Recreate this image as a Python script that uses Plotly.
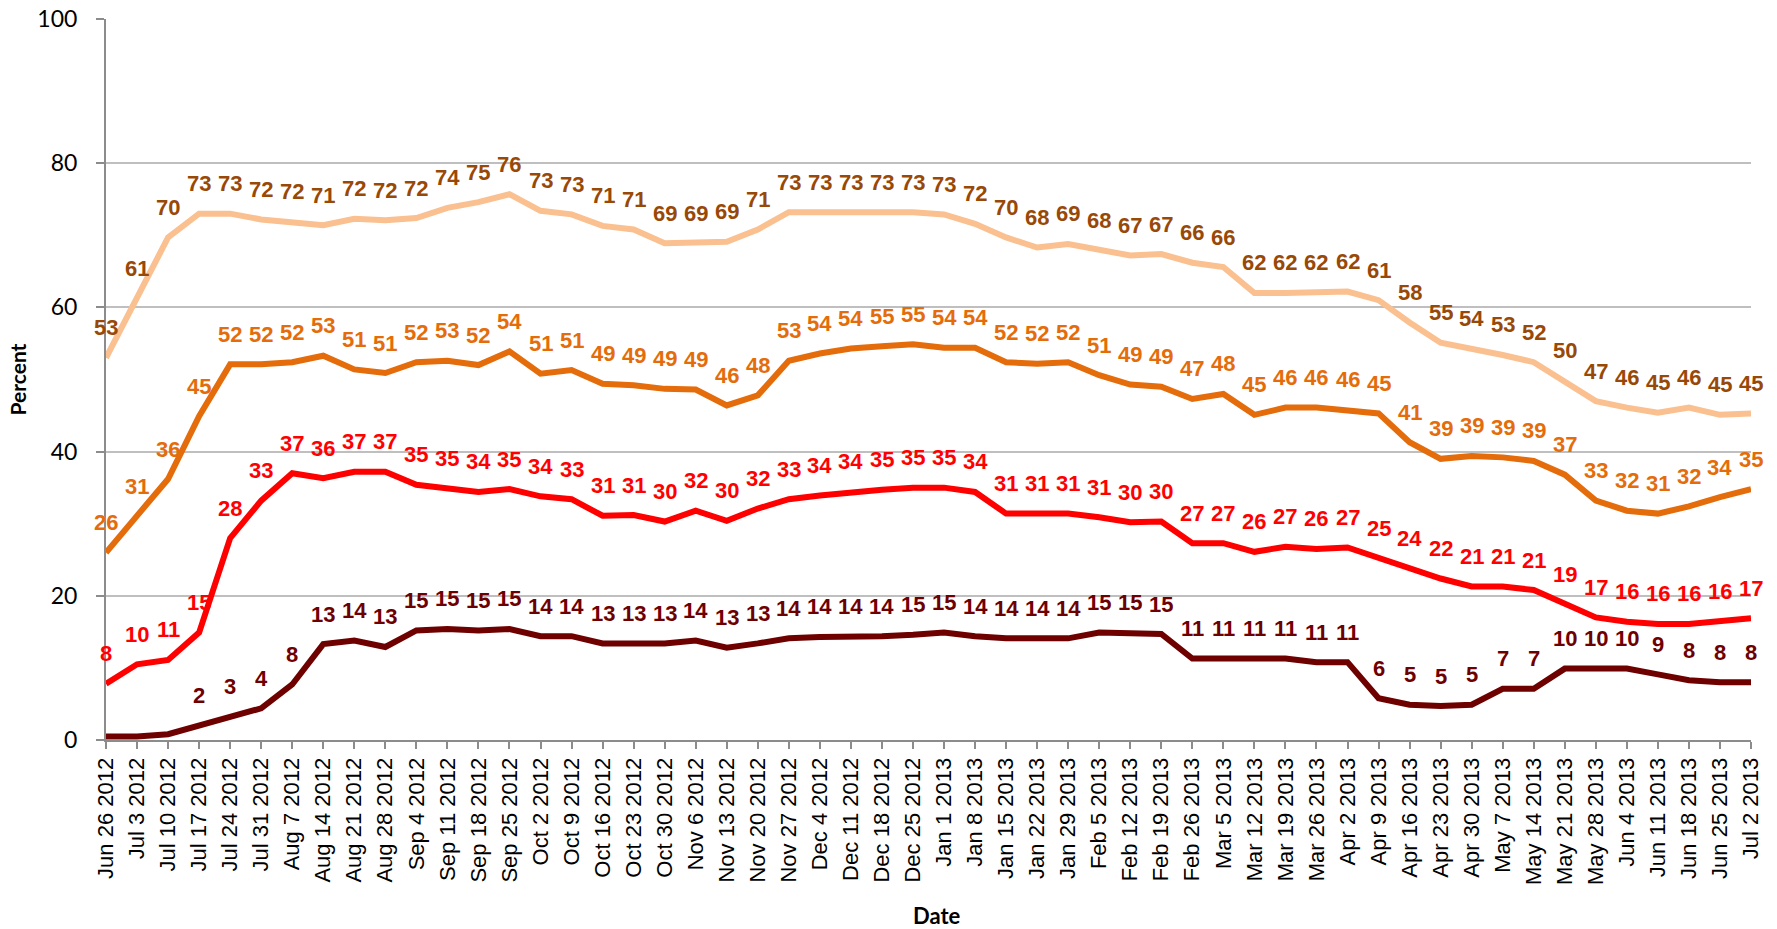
import plotly.graph_objects as go

dates = ["Jun 26 2012", "Jul 3 2012", "Jul 10 2012", "Jul 17 2012", "Jul 24 2012", "Jul 31 2012",
         "Aug 7 2012", "Aug 14 2012", "Aug 21 2012", "Aug 28 2012", "Sep 4 2012", "Sep 11 2012",
         "Sep 18 2012", "Sep 25 2012", "Oct 2 2012", "Oct 9 2012", "Oct 16 2012", "Oct 23 2012",
         "Oct 30 2012", "Nov 6 2012", "Nov 13 2012", "Nov 20 2012", "Nov 27 2012", "Dec 4 2012",
         "Dec 11 2012", "Dec 18 2012", "Dec 25 2012", "Jan 1 2013", "Jan 8 2013", "Jan 15 2013",
         "Jan 22 2013", "Jan 29 2013", "Feb 5 2013", "Feb 12 2013", "Feb 19 2013", "Feb 26 2013",
         "Mar 5 2013", "Mar 12 2013", "Mar 19 2013", "Mar 26 2013", "Apr 2 2013", "Apr 9 2013",
         "Apr 16 2013", "Apr 23 2013", "Apr 30 2013", "May 7 2013", "May 14 2013", "May 21 2013",
         "May 28 2013", "Jun 4 2013", "Jun 11 2013", "Jun 18 2013", "Jun 25 2013", "Jul 2 2013"]

series_top = [53.0, 61.2, 69.7, 73.0, 73.0, 72.2, 71.9, 71.4, 72.3, 72.1, 72.4, 73.8, 74.6, 75.7,
              73.4, 72.9, 71.3, 70.8, 68.9, 68.9, 69.1, 70.8, 73.2, 73.2, 73.2, 73.2, 73.2, 72.9,
              71.6, 69.7, 68.3, 68.8, 67.9, 67.2, 67.4, 66.2, 65.6, 62.0, 62.0, 62.0, 62.2, 61.0,
              57.9, 55.1, 54.3, 53.4, 52.4, 49.8, 47.0, 46.1, 45.4, 46.1, 45.1, 45.3]

series_second = [26.0, 31.0, 36.2, 44.9, 52.1, 52.1, 52.4, 53.3, 51.4, 50.9, 52.4, 52.6, 52.0, 53.9,
                 50.8, 51.3, 49.4, 49.2, 48.7, 48.6, 46.4, 47.8, 52.6, 53.6, 54.3, 54.6, 54.9, 54.4,
                 54.4, 52.4, 52.2, 52.4, 50.6, 49.3, 49.0, 47.3, 48.0, 45.1, 46.1, 46.1, 45.8, 45.3,
                 41.3, 39.0, 39.4, 39.2, 38.7, 36.8, 33.2, 31.8, 31.4, 32.4, 33.7, 34.8]

series_third = [7.8, 10.5, 11.1, 14.9, 28.0, 33.2, 37.0, 36.3, 37.2, 37.2, 35.4, 34.9, 34.4, 34.8,
                33.8, 33.4, 31.1, 31.2, 30.3, 31.8, 30.4, 32.1, 33.4, 33.9, 34.4, 34.7, 35.0, 35.0,
                34.4, 31.4, 31.4, 31.4, 30.9, 30.2, 30.3, 27.3, 27.3, 26.1, 26.8, 26.5, 26.7, 25.2,
                23.8, 22.4, 21.3, 21.3, 20.8, 18.8, 17.0, 16.4, 16.1, 16.1, 16.4, 16.9]

series_bottom = [0.5, 0.5, 0.8, 2.0, 3.3, 4.4, 7.7, 13.3, 13.8, 12.9, 15.2, 15.4, 15.2, 15.4,
                 14.4, 14.4, 13.4, 13.4, 13.4, 13.8, 12.8, 13.4, 14.1, 14.3, 14.3, 14.4, 14.6, 14.9,
                 14.4, 14.1, 14.1, 14.1, 14.9, 14.9, 14.7, 11.3, 11.3, 11.3, 11.3, 10.8, 10.8, 5.8,
                 4.9, 4.7, 4.9, 7.1, 7.1, 9.9, 9.9, 9.9, 9.1, 8.3, 8.0, 8.0]

styles = [
    (series_top, "#FAC090", "#984807"),
    (series_second, "#E46C0A", "#E46C0A"),
    (series_third, "#FF0000", "#FF0000"),
    (series_bottom, "#6E0000", "#6E0000"),
]

fig = go.Figure()
annotations = []
for vals, line_color, label_color in styles:
    fig.add_trace(go.Scatter(x=dates, y=vals, mode="lines",
                             line=dict(color=line_color, width=6),
                             showlegend=False, cliponaxis=False))
    for d, v in zip(dates, vals):
        if v < 1.5:
            continue
        annotations.append(dict(x=d, y=v, xref="x", yref="y", text=f"{v:.0f}",
                                showarrow=False, yshift=30, yanchor="middle",
                                font=dict(family="Liberation Sans", size=22,
                                          color=label_color, weight="bold")))

annotations.append(dict(x=0, y=0.5, xref="paper", yref="paper", text="Percent",
                        textangle=-90, showarrow=False, xshift=-89, xanchor="center",
                        font=dict(family="Lato", size=21, color="#000000", weight="bold")))
annotations.append(dict(x=0.505, y=0, xref="paper", yref="paper", text="Date",
                        showarrow=False, yshift=-175, yanchor="middle",
                        font=dict(family="Lato", size=22, color="#000000", weight="bold")))

fig.update_layout(
    width=1777, height=929,
    margin=dict(l=106, r=26, t=19, b=189),
    paper_bgcolor="white", plot_bgcolor="white",
    annotations=annotations,
    xaxis=dict(type="category", range=[0, 53], showgrid=False, automargin=False,
               showline=True, linecolor="#8C8C8C", linewidth=2,
               ticks="outside", ticklen=7, tickcolor="#8C8C8C", tickwidth=1.5,
               tickangle=-90, tickfont=dict(family="Liberation Sans", size=22, color="#000000"),
               zeroline=False),
    yaxis=dict(range=[0, 100], tickvals=[0, 20, 40, 60, 80, 100], automargin=False,
               showgrid=True, gridcolor="#BFBFBF", gridwidth=2,
               showline=True, linecolor="#8C8C8C", linewidth=2,
               ticks="outside", ticklen=8, tickcolor="#8C8C8C", tickwidth=2,
               tickfont=dict(family="Lato", size=23, color="#000000"),
               ticklabelstandoff=14, zeroline=False),
)

fig.write_html("out.html", config={"displayModeBar": False},
               post_script="document.body.style.margin='0px';")
